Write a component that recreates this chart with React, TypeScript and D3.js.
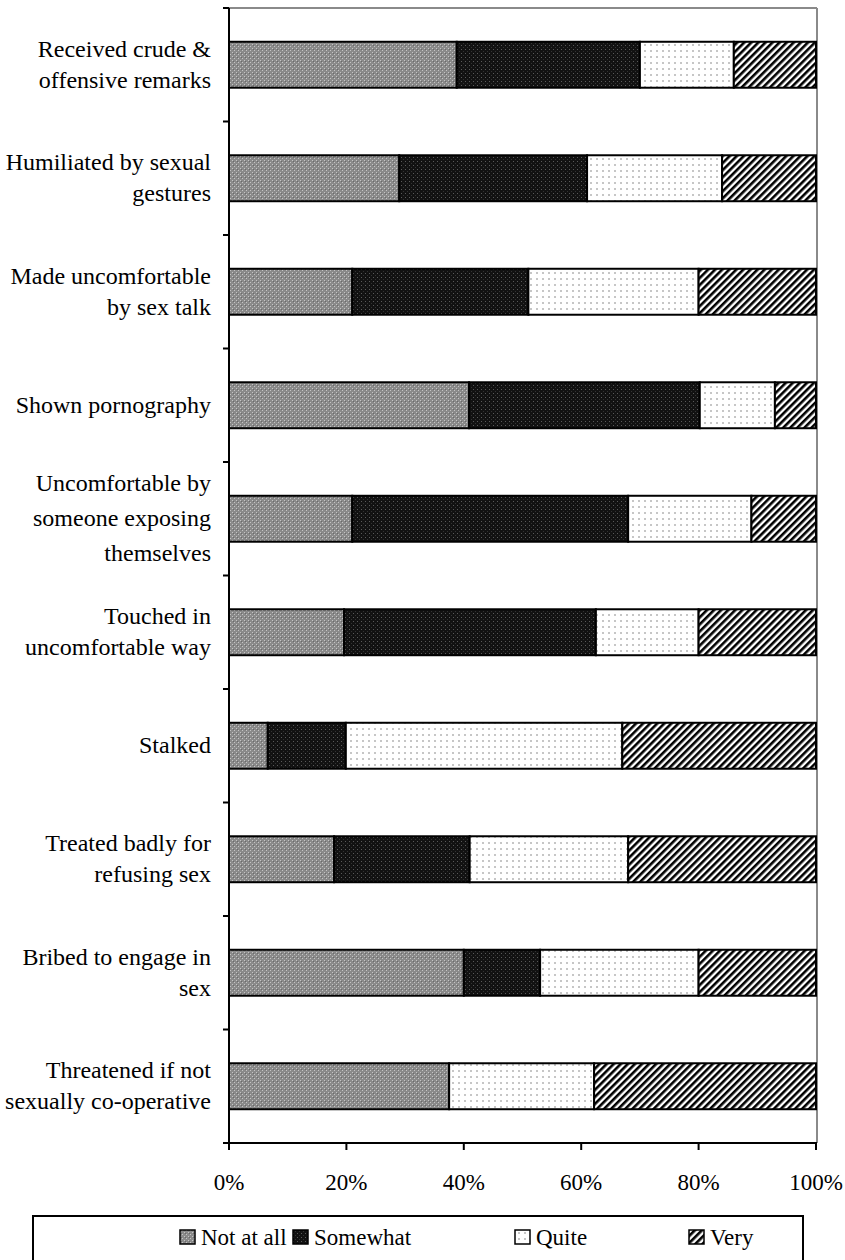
import React from "react";
import * as d3 from "d3";

const categories = [
  ["Received crude &", "offensive remarks"],
  ["Humiliated by sexual", "gestures"],
  ["Made uncomfortable", "by sex talk"],
  ["Shown pornography"],
  ["Uncomfortable by", "someone exposing", "themselves"],
  ["Touched in", "uncomfortable way"],
  ["Stalked"],
  ["Treated badly for", "refusing sex"],
  ["Bribed to engage in", "sex"],
  ["Threatened if not", "sexually co-operative"],
];

const seriesNames = ["Not at all", "Somewhat", "Quite", "Very"];

const notAtAll = [38.8, 29, 21, 40.9, 21, 19.6, 6.6, 17.9, 40, 37.5];
const somewhat = [31.2, 32, 30, 39.3, 47, 42.9, 13.3, 23.1, 13, 0];
const quite = [16, 23, 29, 12.8, 21, 17.5, 47.1, 27, 27, 24.7];
const very = [14, 16, 20, 7, 11, 20, 33, 32, 20, 37.8];

const xTicks = [0, 20, 40, 60, 80, 100];

const W = 845;
const H = 1260;
const left = 229;
const right = 816;
const top = 8;
const bottom = 1143;
const FONT = "'Liberation Serif', 'Times New Roman', serif";

const patternIds = ["pNot", "pSome", "pQuite", "pVery"];

export default function App() {
  const x = d3.scaleLinear().domain([0, 100]).range([left, right]);
  const idx = categories.map((_, i) => String(i));
  const y = d3.scaleBand().domain(idx).range([top, bottom]).paddingInner(0.595).paddingOuter(0.2975);

  const rows = categories.map((c, i) => ({
    key: String(i),
    "Not at all": notAtAll[i],
    Somewhat: somewhat[i],
    Quite: quite[i],
    Very: very[i],
  }));
  const stacked = d3.stack<any>().keys(seriesNames)(rows);

  const step = (bottom - top) / categories.length;
  const boundaries = d3.range(categories.length + 1).map((k) => top + k * step);

  const legendItems = [
    { name: "Not at all", x: 180 },
    { name: "Somewhat", x: 293 },
    { name: "Quite", x: 515 },
    { name: "Very", x: 689 },
  ];

  return (
    <svg
      width={W}
      height={H}
      style={{ position: "absolute", left: 0, top: 0, background: "#fff" }}
      fontFamily={FONT}
    >
      <defs>
        <pattern id="pNot" width={4} height={4} patternUnits="userSpaceOnUse">
          <rect width={4} height={4} fill="#8a8a8a" />
          <rect x={0} y={0} width={1} height={1} fill="#c4c4c4" />
          <rect x={2} y={2} width={1} height={1} fill="#c4c4c4" />
          <rect x={1} y={1} width={1} height={1} fill="#6a6a6a" />
        </pattern>
        <pattern id="pSome" width={4} height={4} patternUnits="userSpaceOnUse">
          <rect width={4} height={4} fill="#121212" />
          <rect x={1} y={1} width={1} height={1} fill="#5a5a5a" />
          <rect x={3} y={3} width={1} height={1} fill="#333" />
        </pattern>
        <pattern id="pQuite" width={6} height={6} patternUnits="userSpaceOnUse">
          <rect width={6} height={6} fill="#fff" />
          <rect x={2} y={2} width={2} height={2} fill="#c6c6c6" />
        </pattern>
        <pattern
          id="pVery"
          width={5}
          height={5}
          patternUnits="userSpaceOnUse"
          patternTransform="rotate(45)"
        >
          <rect width={5} height={5} fill="#fff" />
          <rect width={2.6} height={5} fill="#000" />
        </pattern>
      </defs>

      {/* plot frame (top & right, gray) */}
      <line x1={left} x2={right + 1} y1={top} y2={top} stroke="#8a8a8a" strokeWidth={2} />
      <line x1={right + 1} x2={right + 1} y1={top} y2={bottom} stroke="#8a8a8a" strokeWidth={2} />

      {/* bars */}
      {stacked.map((s, si) => (
        <g key={s.key} fill={`url(#${patternIds[si]})`} stroke="#000" strokeWidth={2}>
          {s.map((d, i) => {
            const w = x(d[1]) - x(d[0]);
            if (w <= 0) return null;
            return (
              <rect
                key={i}
                x={x(d[0])}
                y={y(String(i))!}
                width={w}
                height={y.bandwidth()}
              />
            );
          })}
        </g>
      ))}

      {/* y axis */}
      <line x1={left} x2={left} y1={top} y2={bottom + 1} stroke="#000" strokeWidth={2} />
      {boundaries.map((b, i) => (
        <line key={i} x1={left - 6} x2={left} y1={b} y2={b} stroke="#000" strokeWidth={2} />
      ))}

      {/* x axis */}
      <line x1={left - 6} x2={right + 1} y1={bottom} y2={bottom} stroke="#000" strokeWidth={2} />
      {xTicks.map((t) => (
        <g key={t}>
          <line x1={x(t)} x2={x(t)} y1={bottom} y2={bottom + 7} stroke="#000" strokeWidth={2} />
          <text x={x(t)} y={bottom + 47} textAnchor="middle" fontSize={23} fill="#000">
            {t}%
          </text>
        </g>
      ))}

      {/* category labels */}
      {categories.map((lines, i) => {
        const cy = y(String(i))! + y.bandwidth() / 2;
        const n = lines.length;
        const lineH = n === 3 ? 35 : 31;
        return (
          <text key={i} textAnchor="end" fontSize={24} fill="#000">
            {lines.map((ln, k) => (
              <tspan key={k} x={211} y={cy + (k - (n - 1) / 2) * lineH + 7.5}>
                {ln}
              </tspan>
            ))}
          </text>
        );
      })}

      {/* legend */}
      <rect x={33} y={1216} width={770} height={60} fill="#fff" stroke="#000" strokeWidth={2} />
      {legendItems.map((it, i) => (
        <g key={it.name}>
          <rect
            x={it.x}
            y={1230}
            width={15}
            height={14}
            fill={`url(#${patternIds[i]})`}
            stroke="#000"
            strokeWidth={1.5}
          />
          <text x={it.x + 21} y={1245} fontSize={23} fill="#000">
            {it.name}
          </text>
        </g>
      ))}
    </svg>
  );
}
